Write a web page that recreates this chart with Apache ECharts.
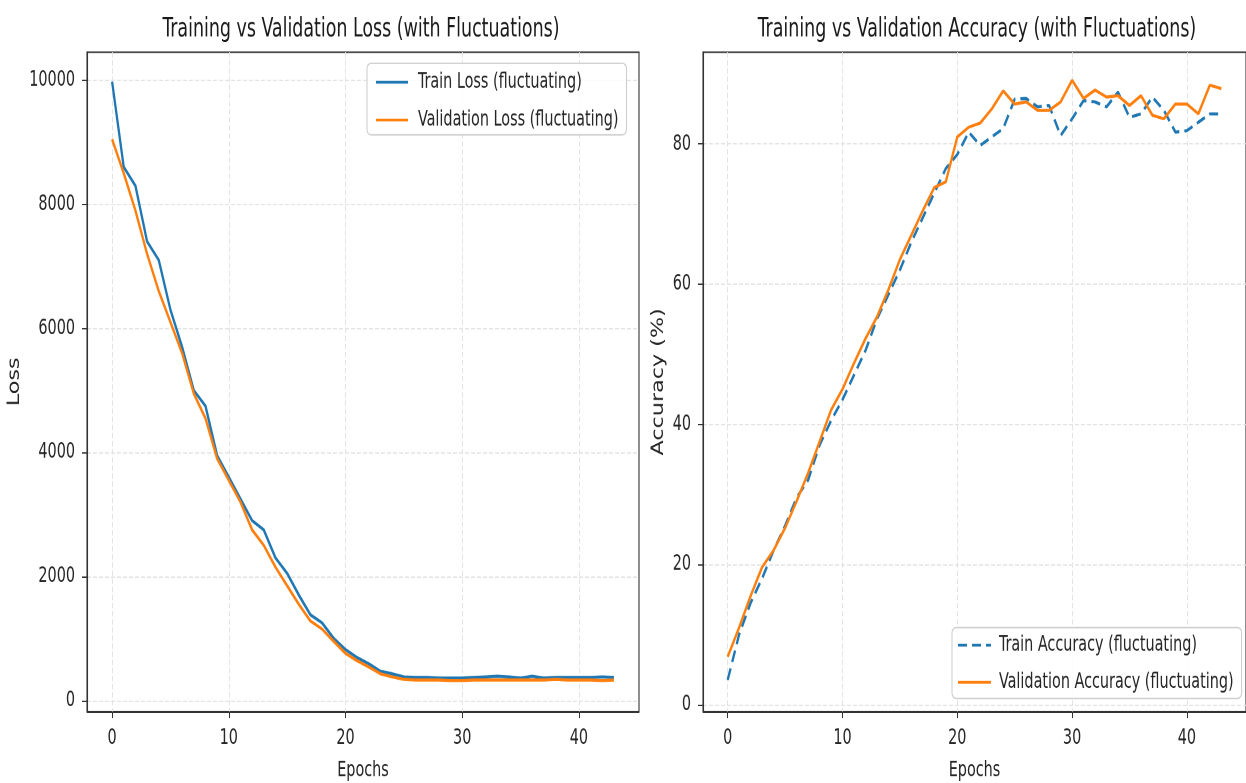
<!DOCTYPE html>
<html><head><meta charset="utf-8">
<script src="https://cdn.jsdelivr.net/npm/echarts@6/dist/echarts.min.js"></script>
<style>
html,body{margin:0;padding:0;background:#fff;overflow:hidden;width:1246px;height:783px;}
#wrap{position:fixed;left:0;top:0;width:1246px;height:783px;overflow:hidden;background:#fff;}
#c{position:absolute;left:0;top:0;width:1246px;height:584px;transform:scaleY(1.35);transform-origin:0 0;}
</style>
</head><body><div id="wrap"><div id="c"></div></div>
<script>
const epochs = [0,1,2,3,4,5,6,7,8,9,10,11,12,13,14,15,16,17,18,19,20,21,22,23,24,25,26,27,28,29,30,31,32,33,34,35,36,37,38,39,40,41,42,43];
const trainLoss = [9980,8600,8300,7400,7100,6300,5700,5000,4750,3950,3600,3250,2900,2750,2300,2050,1700,1380,1250,1000,820,690,590,470,430,380,370,370,360,360,360,370,380,390,380,360,390,360,370,370,370,370,380,370];
const valLoss = [9050,8500,7900,7200,6600,6100,5600,4950,4550,3900,3550,3200,2750,2500,2150,1850,1550,1280,1150,950,760,640,540,430,380,340,330,330,330,320,320,330,330,330,330,330,330,330,340,330,330,330,320,330];
const trainAcc = [3.5,10,14.5,18,22,25.5,29.5,32,37,40.5,43.5,47,50.5,55,58.5,62,66,69.5,73,76.5,78.5,81.7,79.8,81,82.2,86.4,86.5,85.3,85.5,81.2,83.6,86.2,86,85.3,87.4,83.8,84.3,86.7,84.8,81.7,81.9,83.1,84.3,84.3];
const valAcc = [6.8,11,15.5,19.6,22,25.2,29,33,37.5,42,45,48.7,52.2,55.3,59.2,63.5,67,70.5,73.8,74.6,81,82.4,83,85,87.6,85.7,86,84.8,84.8,86,89.1,86.5,87.7,86.7,86.9,85.5,86.9,84.1,83.6,85.7,85.7,84.3,88.4,87.9];
const epochTicks = [0,10,20,30,40];
const lossTicks = [0,2000,4000,6000,8000,10000];
const accTicks = [0,20,40,60,80];

// The reference picture is stretched vertically; the page reproduces that with a CSS scaleY.
const SY = 1.35;
const FIT = 0.996;
const FONT = "'DejaVu Sans Condensed','DejaVu Sans',sans-serif";
const TXT = '#262626';
const SPINE = '#333333';
const BLUE = '#1f77b4', ORANGE = '#ff7f0e';
const px = v => v / (SY * FIT);   // reference-picture y pixels -> unscaled layout pixels

function pairs(xs, ys){ return xs.map((x,i)=>[x, ys[i]]); }
const plain = v => String(v);

function xAxis(gi){
  return {
    type:'value', gridIndex:gi, min:-2.15, max:45.15, minInterval:10, maxInterval:10,
    axisLine:{show:true, onZero:false, lineStyle:{color:SPINE, width:1.1}},
    axisTick:{show:true, length:5, customValues:epochTicks, lineStyle:{color:SPINE, width:1}},
    axisLabel:{customValues:epochTicks, formatter:plain, margin:12, fontSize:16, fontFamily:FONT, color:TXT},
    splitLine:{show:true, lineStyle:{color:'#e4e4e4', type:'dashed', width:1}},
    name:'Epochs', nameLocation:'middle', nameGap:36,
    nameTextStyle:{fontSize:16, fontFamily:FONT, color:TXT}
  };
}
function yAxis(gi, min, max, step, ticks, name, gap){
  return {
    type:'value', gridIndex:gi, min:min, max:max, minInterval:step, maxInterval:step,
    axisLine:{show:true, onZero:false, lineStyle:{color:SPINE, width:1.1}},
    axisTick:{show:true, length:5, customValues:ticks, lineStyle:{color:SPINE, width:1}},
    axisLabel:{customValues:ticks, formatter:plain, margin:12, fontSize:16, fontFamily:FONT, color:TXT},
    splitLine:{show:true, lineStyle:{color:'#e4e4e4', type:'dashed', width:1}},
    name:name, nameLocation:'middle', nameRotate:90, nameGap:gap,
    nameTextStyle:{fontSize:16.5, fontFamily:"'DejaVu Sans',sans-serif", color:TXT}
  };
}

const chart = echarts.init(document.getElementById('c'), null, {renderer:'canvas', devicePixelRatio:2, width:1246, height:584});
chart.setOption({
  backgroundColor:'#ffffff',
  animation:false,
  title:[
    {text:'Training vs Validation Loss (with Fluctuations)', left:361, top:px(30) - 9.7, textAlign:'center', padding:0,
     textStyle:{fontSize:19.4, fontWeight:'normal', fontFamily:FONT, color:'#1a1a1a'}},
    {text:'Training vs Validation Accuracy (with Fluctuations)', left:977, top:px(30) - 9.7, textAlign:'center', padding:0,
     textStyle:{fontSize:19.4, fontWeight:'normal', fontFamily:FONT, color:'#1a1a1a'}}
  ],
  grid:[
    {left:87, top:px(52), width:552, height:px(661), show:true, borderColor:SPINE, borderWidth:1.1, backgroundColor:'transparent'},
    {left:703, top:px(52), width:550, height:px(661), show:true, borderColor:SPINE, borderWidth:1.1, backgroundColor:'transparent'}
  ],
  xAxis:[xAxis(0), xAxis(1)],
  yAxis:[
    yAxis(0, -178, 10453, 2000, lossTicks, 'Loss', 64),
    yAxis(1, -1, 93.1, 20, accTicks, 'Accuracy (%)', 36)
  ],
  legend:[
    {data:['Train Loss (fluctuating)','Validation Loss (fluctuating)'], orient:'vertical', left:367, top:px(63),
     itemWidth:32, itemHeight:14, itemGap:12, padding:[6,8,3,8],
     backgroundColor:'rgba(255,255,255,0.85)', borderColor:'#cccccc', borderWidth:1, borderRadius:4,
     itemStyle:{opacity:0},
     textStyle:{fontSize:16, fontFamily:FONT, color:TXT, padding:[0,0,0,5]}},
    {data:['Train Accuracy (fluctuating)','Validation Accuracy (fluctuating)'], orient:'vertical', left:952, top:px(625),
     itemWidth:33, itemHeight:14, itemGap:11.5, padding:[5,8,4,5],
     backgroundColor:'rgba(255,255,255,0.85)', borderColor:'#cccccc', borderWidth:1, borderRadius:4,
     itemStyle:{opacity:0},
     textStyle:{fontSize:16, fontFamily:FONT, color:TXT, padding:[0,0,0,3]}}
  ],
  series:[
    {name:'Train Loss (fluctuating)', type:'line', xAxisIndex:0, yAxisIndex:0, data:pairs(epochs, trainLoss),
     symbol:'none', lineStyle:{color:BLUE, width:2.3}, itemStyle:{color:BLUE}},
    {name:'Validation Loss (fluctuating)', type:'line', xAxisIndex:0, yAxisIndex:0, data:pairs(epochs, valLoss),
     symbol:'none', lineStyle:{color:ORANGE, width:2.3}, itemStyle:{color:ORANGE}},
    {name:'Train Accuracy (fluctuating)', type:'line', xAxisIndex:1, yAxisIndex:1, data:pairs(epochs, trainAcc),
     symbol:'none', lineStyle:{color:BLUE, width:2.3, type:[9,5]}, itemStyle:{color:BLUE}},
    {name:'Validation Accuracy (fluctuating)', type:'line', xAxisIndex:1, yAxisIndex:1, data:pairs(epochs, valAcc),
     symbol:'none', lineStyle:{color:ORANGE, width:2.3}, itemStyle:{color:ORANGE}}
  ]
});
</script>
</body></html>
